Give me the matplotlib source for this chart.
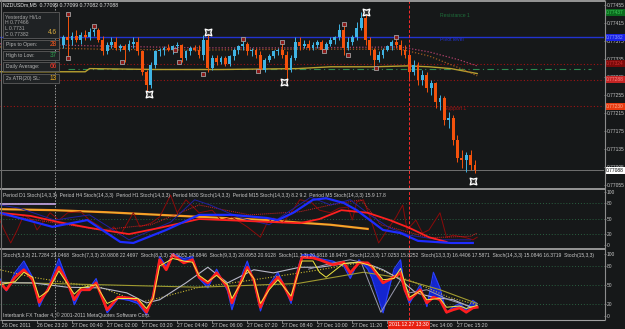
import matplotlib
matplotlib.use("Agg")
import matplotlib.pyplot as plt
import matplotlib.transforms as mtransforms
from matplotlib.patches import Rectangle
from matplotlib.ticker import FormatStrFormatter
import numpy as np

plt.rcParams["font.family"] = ["Liberation Sans", "DejaVu Sans"]

# ---------------- data ----------------
# NZDUSD M5, one candle per two bars, prices in points (1e-5)
bar_idx = list(range(26, 217, 2))
opens = [77373, 77366, 77382, 77377, 77386, 77377, 77388, 77382, 77395, 77399,
         77377, 77351, 77366, 77373, 77359, 77364, 77355, 77368, 77373, 77351,
         77306, 77277, 77322, 77351, 77355, 77359, 77355, 77362, 77366, 77337,
         77351, 77359, 77355, 77344, 77377, 77315, 77337, 77328, 77337, 77324,
         77340, 77355, 77362, 77368, 77351, 77355, 77344, 77311, 77333, 77342,
         77351, 77355, 77344, 77311, 77337, 77373, 77364, 77368, 77359, 77366,
         77371, 77355, 77368, 77377, 77382, 77399, 77359, 77373, 77382, 77404,
         77426, 77377, 77355, 77333, 77344, 77355, 77362, 77373, 77366, 77355,
         77344, 77306, 77322, 77288, 77299, 77271, 77280, 77239, 77248, 77199,
         77204, 77155, 77115, 77111, 77122, 77100]
highs = [77382, 77388, 77433, 77393, 77399, 77395, 77399, 77404, 77408, 77404,
         77386, 77373, 77382, 77382, 77368, 77368, 77377, 77382, 77382, 77355,
         77311, 77328, 77355, 77359, 77364, 77368, 77366, 77373, 77368, 77355,
         77364, 77366, 77366, 77388, 77393, 77344, 77344, 77342, 77342, 77344,
         77359, 77366, 77377, 77373, 77359, 77359, 77351, 77337, 77346, 77355,
         77359, 77371, 77351, 77344, 77382, 77382, 77377, 77377, 77373, 77377,
         77377, 77373, 77382, 77386, 77411, 77411, 77382, 77388, 77417, 77439,
         77439, 77382, 77359, 77351, 77359, 77366, 77377, 77384, 77377, 77366,
         77355, 77333, 77328, 77311, 77306, 77288, 77284, 77255, 77253, 77217,
         77211, 77166, 77133, 77128, 77133, 77111]
lows = [77355, 77359, 77337, 77366, 77373, 77368, 77377, 77377, 77386, 77373,
        77344, 77346, 77359, 77355, 77351, 77328, 77351, 77359, 77344, 77299,
        77257, 77271, 77315, 77342, 77344, 77351, 77346, 77355, 77328, 77333,
        77344, 77351, 77337, 77333, 77306, 77311, 77322, 77324, 77319, 77319,
        77333, 77346, 77355, 77344, 77342, 77337, 77304, 77306, 77328, 77337,
        77344, 77337, 77284, 77306, 77333, 77355, 77359, 77355, 77355, 77359,
        77351, 77351, 77364, 77368, 77377, 77344, 77355, 77366, 77377, 77399,
        77366, 77344, 77319, 77328, 77337, 77351, 77355, 77359, 77344, 77337,
        77288, 77299, 77277, 77277, 77262, 77255, 77226, 77222, 77188, 77182,
        77144, 77106, 77093, 77084, 77088, 77082]
closes = [77366, 77382, 77377, 77386, 77377, 77388, 77382, 77395, 77399, 77377,
          77351, 77366, 77373, 77359, 77364, 77355, 77368, 77373, 77351, 77306,
          77277, 77322, 77351, 77355, 77359, 77355, 77362, 77366, 77337, 77351,
          77359, 77355, 77344, 77377, 77315, 77337, 77328, 77337, 77324, 77340,
          77355, 77362, 77368, 77351, 77355, 77344, 77311, 77333, 77342, 77351,
          77355, 77344, 77311, 77337, 77373, 77364, 77368, 77359, 77366, 77371,
          77355, 77368, 77377, 77382, 77399, 77359, 77373, 77382, 77404, 77426,
          77377, 77355, 77333, 77344, 77355, 77362, 77373, 77366, 77355, 77344,
          77306, 77322, 77288, 77299, 77271, 77280, 77239, 77248, 77199, 77204,
          77155, 77115, 77111, 77122, 77100, 77088]

# fractal markers
frac_idx = [30, 30, 42, 55, 79, 81, 92, 110, 117, 128, 147, 156, 158, 171, 180]
frac_val = [77433, 77337, 77408, 77328, 77355, 77328, 77302, 77379, 77308, 77371,
            77351, 77411, 77344, 77315, 77384]
swing_idx = [67, 94, 129, 166, 215]
swing_val = [77257, 77393, 77284, 77439, 77064]

# moving averages on price
ma_y_idx = [-1, 38, 40, 70, 100, 135, 150, 170, 185, 195, 205, 217]
ma_y_val = [77306, 77306, 77313, 77311, 77311, 77313, 77317, 77317, 77319, 77317, 77313, 77302]
ma_a_idx = [-1, 45, 90, 136, 182, 195, 209, 217]
ma_a_val = [77368, 77363, 77359, 77359, 77361, 77350, 77332, 77319]
ma_b_idx = [-1, 45, 90, 136, 182, 195, 209, 217]
ma_b_val = [77361, 77356, 77354, 77356, 77356, 77341, 77314, 77297]

# levels
pivot = 77382
res1 = 77437
sup_levels = [77324, 77288, 77230]
green_level = 77313
tag_vals = [77437, 77382, 77324, 77288, 77230, 77088]
tag_fc = ["#0b6b1e", "#1a22e6", "#7a0a0a", "#c42424", "#e83a10", "#ffffff"]
tag_tc = ["#3ccf5a", "#8a9cff", "#d03030", "#ff8a8a", "#ffb090", "#000000"]
price_ticks = [77455, 77415, 77375, 77335, 77295, 77255, 77215, 77175, 77135, 77095, 77055]

# MTF stochastic panel
d1_idx = [-1, 24, 48, 72, 96, 121, 136, 150, 167]
d1_val = [68, 66, 62, 57, 52, 47, 42, 38, 30]
h4_idx = [-1, 13, 26, 40, 58, 72, 90, 113, 136, 145, 155, 167, 177, 186, 195, 203]
h4_val = [61, 55, 43, 32, 20, 32, 49, 45, 41, 49, 66, 61, 47, 32, 14, 5]
h1_idx = [-1, 23, 39, 54, 60, 66, 75, 90, 105, 121, 126, 133, 142, 148, 156, 162, 174, 182, 190, 205, 215]
h1_val = [61, 34, 47, 5, 3, 13, 28, 57, 57, 51, 47, 61, 86, 89, 80, 66, 28, 22, 7, 3, 3]
m30_idx = [-1, 8, 24, 40, 58, 77, 88, 95, 109, 122, 132, 141, 150, 159, 168, 177, 186, 200, 214]
m30_val = [76, 70, 47, 57, 9, 43, 86, 76, 51, 38, 66, 91, 76, 86, 57, 32, 18, 9, 9]
m15_idx = [-1, 22, 45, 68, 90, 113, 136, 150, 164, 173, 182, 195, 214, 217]
m15_val = [57, 43, 28, 38, 76, 57, 63, 76, 86, 38, 28, 13, 16, 22]
m5_idx = [-1, 1, 4, 7, 10, 14, 16, 22, 26, 30, 36, 40, 45, 48, 51, 54, 60, 63, 68, 72,
          77, 80, 84, 90, 96, 100, 105, 112, 118, 121, 124, 128, 132, 136, 141, 145, 150, 154, 158, 160,
          162, 165, 168, 172, 176, 180, 183, 185, 189, 192, 195, 200, 203, 206, 212, 215, 217]
m5_val = [47, 28, 3, 28, 57, 47, 28, 61, 47, 61, 63, 47, 34, 24, 34, 18, 61, 34, 41, 53,
          95, 61, 86, 61, 66, 47, 53, 34, 14, 41, 51, 41, 61, 86, 82, 66, 61, 70, 72, 47,
          82, 86, 53, 3, 28, 53, 76, 28, 47, 22, 28, 61, 14, 18, 13, 9, 14]
lilac_idx = [-1, 24]
lilac_val = [78, 78]

# multi-period stochastic panel
fast_idx = [-1, 2, 6, 10, 14, 17, 21, 26, 30, 33, 36, 40, 43, 48, 53, 58, 62, 66, 69, 72,
            75, 78, 83, 87, 90, 94, 98, 103, 105, 110, 112, 115, 118, 122, 126, 128, 132, 135, 137, 142,
            145, 151, 156, 159, 163, 167, 169, 174, 179, 182, 184, 186, 191, 194, 197, 200, 203, 206, 209, 212,
            215, 217]
fast_red = [54, 42, 62, 74, 58, 22, 42, 78, 53, 26, 42, 42, 53, 10, 30, 29, 26, 6, 30, 90,
            74, 98, 85, 90, 62, 53, 69, 46, 21, 62, 78, 58, 14, 46, 62, 53, 26, 69, 94, 93,
            90, 82, 86, 69, 85, 85, 78, 53, 62, 69, 42, 26, 42, 21, 30, 26, 6, 10, 13, 6,
            13, 14]
fast_blue = [60, 40, 70, 88, 62, 15, 45, 92, 55, 18, 40, 45, 60, 5, 28, 25, 20, 2, 35, 95,
             80, 100, 92, 95, 60, 45, 75, 40, 10, 70, 88, 55, 8, 50, 70, 55, 20, 75, 98, 98,
             92, 88, 80, 60, 90, 75, 60, 5, 75, 90, 40, 20, 50, 15, 70, 45, 5, 15, 20, 10,
             25, 20]
yel_idx = [-1, 6, 10, 14, 17, 21, 26, 33, 36, 43, 48, 53, 62, 66, 69, 72, 78, 83, 87, 90,
           94, 98, 103, 105, 110, 112, 115, 118, 122, 126, 132, 137, 142, 145, 148, 156, 163, 169, 174, 179,
           182, 186, 191, 194, 200, 203, 209, 212, 217]
yel_val = [50, 55, 70, 62, 30, 40, 72, 35, 45, 50, 20, 28, 28, 12, 28, 80, 92, 88, 86, 65,
           55, 65, 50, 28, 58, 74, 60, 20, 42, 58, 32, 88, 88, 70, 62, 84, 86, 80, 58, 60,
           76, 30, 40, 26, 28, 14, 16, 12, 17]
gray1_idx = [-1, 14, 30, 45, 57, 66, 72, 84, 94, 103, 115, 124, 136, 145, 159, 165, 174, 182, 189, 197, 206, 215]
gray1_val = [53, 53, 46, 45, 37, 21, 26, 53, 78, 53, 74, 69, 78, 78, 85, 86, 74, 58, 37, 30, 26, 13]
gray2_idx = [140, 150, 159, 164, 173, 182, 186, 194, 204, 215]
gray2_val = [75, 84, 90, 86, 6, 58, 37, 42, 26, 14]
olive_d_idx = [-1, 14, 30, 45, 63, 72, 90, 105, 121, 136, 145, 165, 176, 189, 204, 217]
olive_d_val = [74, 62, 53, 46, 22, 29, 46, 53, 61, 69, 74, 86, 69, 53, 30, 18]
olive_idx = [-1, 45, 90, 135, 165, 180, 200, 217]
olive_val = [54, 50, 46, 52, 70, 62, 42, 20]

time_idx = [0, 16, 32, 48, 64, 80, 96, 112, 128, 144, 160, 176, 192, 208]
time_labels = ["26 Dec 2011", "26 Dec 23:20", "27 Dec 00:40", "27 Dec 02:00", "27 Dec 03:20",
               "27 Dec 04:40", "27 Dec 06:00", "27 Dec 07:20", "27 Dec 08:40", "27 Dec 10:00",
               "27 Dec 11:20", "27 Dec 12:40", "27 Dec 14:00", "27 Dec 15:20"]

info_rows = [("Pips to Open:", "28", "#ff5a1e"), ("High to Low:", "37", "#2ea04e"),
             ("Daily Average:", "66", "#ff3a2a"), ("2x ATR(20) SL:", "13", "#f0b020")]

# ---------------- drawing ----------------
P = 1e-5
BG = "#161819"
TXT = "#c8c8c8"
EDGE = "#8c8c8c"
UP = "#3fb4e4"
DN = "#f4520c"
GRIDC = "#2a6040"
FS = 3.7
FSR = 3.5  # right scale

fig = plt.figure(figsize=(6.25, 3.29), dpi=100, facecolor=BG)


def rect(top, bot):
    return [0, 1 - bot / 329, 604 / 625, (bot - top) / 329]


ax = fig.add_axes(rect(1, 188))
ax1 = fig.add_axes(rect(190, 248))
ax2 = fig.add_axes(rect(250, 320))
for a in (ax, ax1, ax2):
    a.set_facecolor(BG)
    a.set_xlim(-0.9, 274.9)
    for s in a.spines.values():
        s.set_visible(False)
    a.yaxis.tick_right()
    a.tick_params(axis="y", colors=EDGE, labelcolor=TXT, labelsize=FSR, length=1.5, width=0.6, pad=0.5)
    a.tick_params(axis="x", bottom=False, labelbottom=False)
    a.axvline(24, color="#9a9a9a", lw=0.7, ls=(0, (1.5, 1.5)), zorder=1)
    a.axvline(186, color="#ff2a2a", lw=0.7, ls=(0, (3, 2)), zorder=6)

# main chart
o = np.array(opens) * P
h = np.array(highs) * P
l = np.array(lows) * P
c = np.array(closes) * P
cols = np.where(c >= o, UP, DN)
ax.vlines(bar_idx, l, h, colors=cols, lw=0.7, zorder=3)
ax.bar(bar_idx, np.maximum(np.abs(c - o), 0.5 * P), bottom=np.minimum(o, c), width=1.3,
       color=cols, lw=0, zorder=3)

ax.axhline(pivot * P, color="#2233d0", lw=1.0, zorder=2)
for lv in sup_levels:
    ax.axhline(lv * P, color="#a01414", lw=0.8, ls=(0, (1, 2)), zorder=2)
ax.hlines(green_level * P, 30, 269, color="#2e8a50", lw=0.8, ls=(0, (6, 3, 1, 3)), zorder=2)
ax.axhline(closes[-1] * P, color="#707070", lw=0.7, zorder=2)
ax.plot(ma_y_idx, np.array(ma_y_val) * P, color="#b8a030", lw=1.0, zorder=2)
ax.plot(ma_a_idx, np.array(ma_a_val) * P, color="#b0406a", lw=0.9, ls=(0, (1, 1.5)), zorder=2)
ax.plot(ma_b_idx, np.array(ma_b_val) * P, color="#a05a20", lw=0.9, ls=(0, (1, 1.5)), zorder=2)

ax.scatter(frac_idx, np.array(frac_val) * P, marker="s", s=7, facecolor="#8a1a1a",
           edgecolor="#a0a0a0", lw=0.6, zorder=4)
ax.scatter(swing_idx, np.array(swing_val) * P, marker=(4, 1, 45), s=45, facecolor="#303030",
           edgecolor="white", lw=1.0, zorder=5)

ax.text(200, res1 * P, "Resistance 1", color="#1e6e3a", fontsize=FS, va="top", zorder=2)
ax.text(200, pivot * P, "Pivot level", color="#2233d0", fontsize=FS, va="top", zorder=2)
ax.text(202, sup_levels[2] * P, "Support 1", color="#a01414", fontsize=FS, va="top", zorder=2)

ax.set_ylim(77048.4 * P, 77462.8 * P)
ax.set_yticks(np.array(price_ticks) * P)
ax.yaxis.set_major_formatter(FormatStrFormatter("%.5f"))
tr = mtransforms.blended_transform_factory(ax.transAxes, ax.transData)
for v, fc, tc in zip(tag_vals, tag_fc, tag_tc):
    ax.text(1.0035, v * P, f"{v * P:.5f}", transform=tr, fontsize=FSR, color=tc, va="center",
            ha="left", bbox=dict(boxstyle="square,pad=0.2", fc=fc, ec="none"), clip_on=False, zorder=7)

# MTF stochastic
ax1.plot(lilac_idx, lilac_val, color="#c8a8e8", lw=1.2)
ax1.plot(d1_idx, d1_val, color="#ff8c1a", lw=1.6)
ax1.plot(d1_idx, d1_val, color="#e0c040", lw=0.5)
ax1.plot(m5_idx, m5_val, color="#8b0a0a", lw=0.7)
ax1.plot(m15_idx, m15_val, color="#d02020", lw=0.7, ls=(0, (1, 1)))
ax1.plot(m30_idx, m30_val, color="#2020a0", lw=0.7)
ax1.plot(h4_idx, h4_val, color="#ff2020", lw=1.3)
ax1.plot(h1_idx, h1_val, color="#1e2cff", lw=1.6)
ax1.set_ylim(-6.7, 104.8)

# multi stochastic
ax2.fill_between(fast_idx, fast_red, fast_blue, color="#1428f0", alpha=0.85, lw=0)
ax2.plot(fast_idx, fast_blue, color="#2a40ff", lw=0.8)
ax2.plot(olive_d_idx, olive_d_val, color="#c8b830", lw=0.8, ls=(0, (1, 1.5)))
ax2.plot(olive_idx, olive_val, color="#a09a30", lw=0.8)
ax2.plot(gray1_idx, gray1_val, color="#b8b8c8", lw=0.8)
ax2.plot(gray2_idx, gray2_val, color="#9a9ab0", lw=0.7)
ax2.plot(fast_idx, fast_red, color="#ff1e1e", lw=2.0)
ax2.plot(yel_idx, yel_val, color="#f0e840", lw=0.7)
ax2.set_ylim(-6.4, 105.6)

for a in (ax1, ax2):
    a.set_yticks([0, 20, 50, 80, 100])
    for g in (20, 50, 80):
        a.axhline(g, color=GRIDC, lw=0.7, ls=(0, (1, 2)), zorder=0)

ax2.set_xticks(time_idx)
ax2.set_xticklabels(time_labels, ha="left", fontsize=FS, color=TXT)
ax2.tick_params(axis="x", bottom=True, labelbottom=True, length=2, width=0.6, pad=0.5, colors=EDGE,
                labelcolor=TXT)
tr2 = mtransforms.blended_transform_factory(ax2.transData, ax2.transAxes)
ax2.text(186, -0.068, "2011.12.27 13:30", transform=tr2, fontsize=FS, color="white", ha="center",
         va="center", bbox=dict(boxstyle="square,pad=0.25", fc="#e82010", ec="none"), clip_on=False,
         zorder=7)

# overlay: frame, headers and info boxes (pixel layout)
ov = fig.add_axes([0, 0, 1, 1], facecolor="none")
ov.set_xlim(0, 625)
ov.set_ylim(329, 0)
ov.axis("off")
for y in (0.8, 188.8, 248.8):
    ov.hlines(y, 0, 604.5, color="#a0a0a0", lw=1.3)
ov.hlines(320.3, 0, 604.5, color="#a0a0a0", lw=0.8)
ov.vlines(604.5, 0, 320.3, color=EDGE, lw=0.8)
ov.vlines(0.5, 0, 320.3, color="#707070", lw=0.8)

ov.text(3, 5, "NZDUSDm,M5  0.77099 0.77099 0.77082 0.77088", color="#e6e6e6", fontsize=FS, va="center")
ov.text(3, 195, "Period D1 Stoch(14,3,3)  Period H4 Stoch(14,3,3)  Period H1 Stoch(14,3,3)  "
        "Period M30 Stoch(14,3,3)  Period M15 Stoch(14,3,3) 8.2 9.2  Period M5 Stoch(14,3,3) 15.9 17.8",
        color=TXT, fontsize=FS - 0.1, va="center")
ov.text(3, 255, "Stoch(5,3,3) 21.7284 23.0468  Stoch(7,3,3) 20.0808 22.4697  Stoch(8,3,3) 24.5052 24.6846  "
        "Stoch(9,3,3) 28.0953 20.9128  Stoch(11,3,3) 20.6818 18.9473  Stoch(12,3,3) 17.0253 15.8252  "
        "Stoch(13,3,3) 16.4406 17.5871  Stoch(14,3,3) 15.0846 16.3719  Stoch(15,3,3)",
        color=TXT, fontsize=FS - 0.1, va="center")
ov.text(3, 315, "Interbank FX Trader 4, \u00a9 2001-2011 MetaQuotes Software Corp.", color=TXT,
        fontsize=FS, va="center")

BOXF = "#1f2224"
BOXE = "#5c5c5c"
ov.add_patch(Rectangle((3, 12), 56, 26, fc=BOXF, ec=BOXE, lw=0.6, zorder=8))
ov.text(5, 17, "Yesterday Hi/Lo", color="#a8a8a8", fontsize=FS, va="center", zorder=9)
ov.text(5, 23, "H 0.77466", color="#a8a8a8", fontsize=FS, va="center", zorder=9)
ov.text(5, 29, "L 0.7731", color="#a8a8a8", fontsize=FS, va="center", zorder=9)
ov.text(5, 35, "C 0.77382", color="#a8a8a8", fontsize=FS, va="center", zorder=9)
ov.text(57, 33, "4.6", color="#e0b040", fontsize=FS + 1, va="center", ha="right", zorder=9)
for k, (lab, num, col) in enumerate(info_rows):
    top = [40, 51, 62, 74][k]
    ov.add_patch(Rectangle((3, top), 56, 9, fc=BOXF, ec=BOXE, lw=0.6, zorder=8))
    ov.text(6, top + 4.5, lab, color="#b4b4b4", fontsize=FS, va="center", zorder=9)
    ov.text(57, top + 4.5, num, color=col, fontsize=FS + 1, va="center", ha="right", zorder=9)

fig.savefig("out.png", dpi=100, facecolor=BG)
